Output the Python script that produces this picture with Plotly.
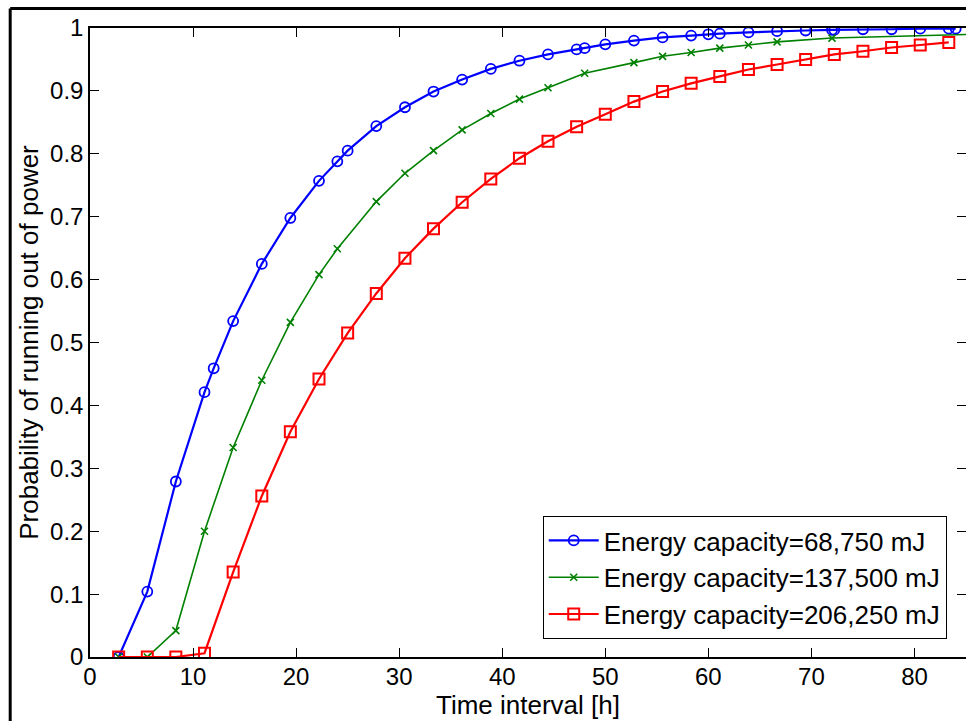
import plotly.graph_objects as go

# ---- data ----
blue_x = [2.78, 5.56, 8.33, 11.11, 12, 13.89, 16.67, 19.44, 22.22, 24, 25, 27.78, 30.56, 33.33,
          36.11, 38.89, 41.67, 44.44, 47.22, 48, 50, 52.78, 55.56, 58.33, 60, 61.11, 63.89, 66.67,
          69.44, 72, 72.22, 75, 77.78, 80.56, 83.33, 84]
blue_y = [0, 0.104, 0.279, 0.421, 0.459, 0.534, 0.625, 0.698, 0.757, 0.788, 0.805, 0.844, 0.874, 0.899,
          0.918, 0.935, 0.948, 0.958, 0.966, 0.968, 0.974, 0.980, 0.985, 0.988, 0.990, 0.991, 0.993, 0.995,
          0.996, 0.997, 0.997, 0.998, 0.998, 0.999, 0.999, 0.999]

green_x = [2.78, 5.56, 8.33, 11.11, 13.89, 16.67, 19.44, 22.22, 24, 27.78, 30.56, 33.33, 36.11, 38.89,
           41.67, 44.44, 48, 52.78, 55.56, 58.33, 61.11, 63.89, 66.67, 72, 86]
green_y = [0, 0, 0.042, 0.200, 0.333, 0.440, 0.532, 0.608, 0.649, 0.724, 0.769, 0.805, 0.838, 0.864,
           0.887, 0.905, 0.928, 0.945, 0.955, 0.961, 0.968, 0.973, 0.978, 0.984, 0.990]

red_x = [2.78, 5.56, 8.33, 11.11, 13.89, 16.67, 19.44, 22.22, 25, 27.78, 30.56, 33.33, 36.11, 38.89,
         41.67, 44.44, 47.22, 50, 52.78, 55.56, 58.33, 61.11, 63.89, 66.67, 69.44, 72.22, 75, 77.78,
         80.56, 83.33]
red_y = [0, 0, 0, 0.006, 0.135, 0.256, 0.358, 0.442, 0.515, 0.578, 0.634, 0.681, 0.723, 0.760,
         0.793, 0.820, 0.843, 0.863, 0.883, 0.899, 0.912, 0.923, 0.934, 0.942, 0.950, 0.958, 0.963, 0.969,
         0.973, 0.977]

names = ["Energy capacity=68,750 mJ", "Energy capacity=137,500 mJ", "Energy capacity=206,250 mJ"]
x_ticks = [0, 10, 20, 30, 40, 50, 60, 70, 80]
y_ticks = [0, 0.1, 0.2, 0.3, 0.4, 0.5, 0.6, 0.7, 0.8, 0.9, 1]
y_tick_text = ["0", "0.1", "0.2", "0.3", "0.4", "0.5", "0.6", "0.7", "0.8", "0.9", "1"]

FONT = "Liberation Sans, Arial, sans-serif"

fig = go.Figure()
fig.add_trace(go.Scatter(x=blue_x, y=blue_y, name=names[0], mode="lines+markers",
                         line=dict(color="#0000FF", width=2.2),
                         marker=dict(symbol="circle-open", size=10, color="#0000FF",
                                     line=dict(width=1.8, color="#0000FF"))))
fig.add_trace(go.Scatter(x=green_x, y=green_y, name=names[1], mode="lines+markers",
                         line=dict(color="#008000", width=1.6),
                         marker=dict(symbol="x-thin", size=7, color="#008000",
                                     line=dict(width=1.6, color="#008000"))))
fig.add_trace(go.Scatter(x=red_x, y=red_y, name=names[2], mode="lines+markers",
                         line=dict(color="#FF0000", width=2.2),
                         marker=dict(symbol="square-open", size=11, color="#FF0000",
                                     line=dict(width=2, color="#FF0000"))))

# figure frame (left and top edges of the figure border)
fig.add_shape(type="line", xref="paper", yref="paper", x0=-0.0911, x1=-0.0911, y0=-0.2, y1=1.031,
              line=dict(color="black", width=3))
fig.add_shape(type="line", xref="paper", yref="paper", x0=-0.0911, x1=1.2, y0=1.031, y1=1.031,
              line=dict(color="black", width=3))

fig.update_layout(
    width=968, height=721,
    margin=dict(l=90, r=0, t=28, b=64),
    paper_bgcolor="white", plot_bgcolor="white",
    font=dict(family=FONT, color="black", size=24),
    showlegend=True,
    legend=dict(x=0.978, y=0.0286, xanchor="right", yanchor="bottom",
                bgcolor="white", bordercolor="black", borderwidth=1,
                font=dict(family=FONT, size=26, color="black"),
                tracegroupgap=0, itemwidth=50),
)
fig.update_xaxes(range=[0, 85], tickvals=x_ticks, ticks="inside", ticklen=9, tickcolor="black",
                 showline=True, linecolor="black", linewidth=1.5, mirror="allticks",
                 showgrid=False, zeroline=False, ticklabelstandoff=-3,
                 tickfont=dict(family=FONT, size=24, color="black"),
                 title=dict(text="Time interval [h]", font=dict(family=FONT, size=26), standoff=0))
fig.update_yaxes(range=[0, 1], tickvals=y_ticks, ticktext=y_tick_text, ticks="inside", ticklen=9,
                 tickcolor="black",
                 showline=True, linecolor="black", linewidth=1.5, mirror="allticks",
                 showgrid=False, zeroline=False,
                 tickfont=dict(family=FONT, size=24, color="black"),
                 title=dict(text="Probability of running out of power", font=dict(family=FONT, size=26),
                            standoff=4))

fig.write_html("out.html", config={"displayModeBar": False},
               post_script="document.body.style.margin='0';document.body.style.overflow='hidden';")
